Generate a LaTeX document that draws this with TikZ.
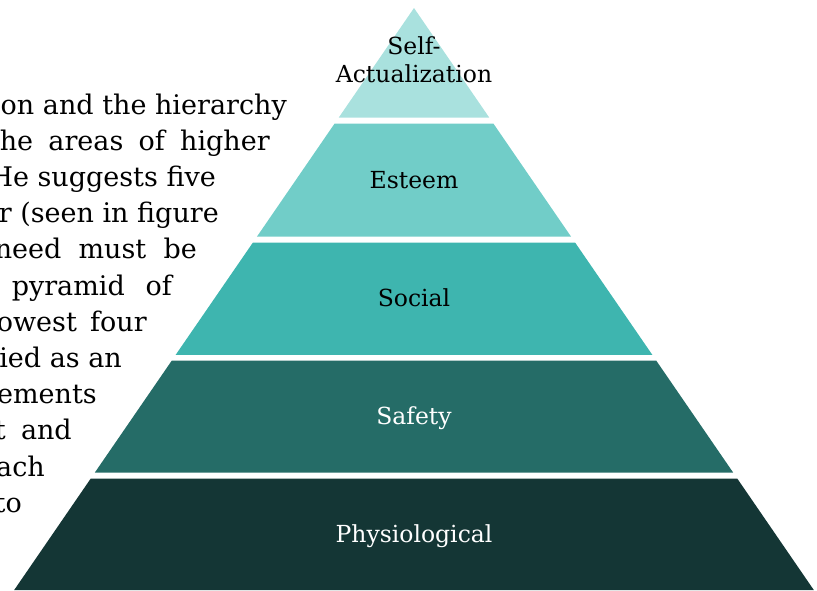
\documentclass[tikz,border=0pt]{standalone}
\usepackage{fontspec}
\setmainfont{DejaVu Serif}
\usepackage{tikz}
\usepackage{xcolor}

\definecolor{selfcol}{HTML}{A9E1DE}
\definecolor{esteemcol}{HTML}{71CDC8}
\definecolor{socialcol}{HTML}{3EB5AF}
\definecolor{safetycol}{HTML}{256C67}
\definecolor{physiocol}{HTML}{143635}

\tikzset{
    txtline/.style={anchor=base east, inner sep=0pt, font=\fontsize{27}{36}\selectfont},
    layer/.style={inner sep=0pt, align=center, font=\fontsize{23.5}{28}\selectfont}
}

\begin{document}
\begin{tikzpicture}[x=1pt, y=-1pt]
            \useasboundingbox (0, 0) rectangle (817, 590);

            \node[txtline] (t1) at (287, 114) {on and the hierarchy};
            \node[txtline] (t2) at (270, 150.2) {\makebox[270pt][s]{he areas of higher}};
            \node[txtline] (t3) at (216, 186.4) {He suggests five};
            \node[txtline] (t4) at (219, 222.6) {r (seen in figure};
            \node[txtline] (t5) at (197, 258.8) {\makebox[202pt][s]{need must be}};
            \node[txtline] (t6) at (172, 295) {\makebox[160pt][s]{pyramid of}};
            \node[txtline] (t7) at (147, 331.2) {\makebox[150pt][s]{owest four}};
            \node[txtline] (t8) at (122, 367.4) {ied as an};
            \node[txtline] (t9) at (97, 403.6) {ements};
            \node[txtline] (t10) at (72, 439.8) {\makebox[77pt][s]{t and}};
            \node[txtline] (t11) at (45, 476) {ach};
            \node[txtline] (t12) at (22, 512.2) {to};

            \fill[selfcol] (414, 8) -- (489.2, 117.5) -- (338.8, 117.5) -- cycle;
            \fill[esteemcol] (334.5, 123.7) -- (493.5, 123.7) -- (571.1, 236.7) -- (256.9, 236.7) -- cycle;
            \fill[socialcol] (252.8, 242.7) -- (575.2, 242.7) -- (652.3, 354.8) -- (175.7, 354.8) -- cycle;
            \fill[safetycol] (171.7, 360.7) -- (656.3, 360.7) -- (733.2, 472.6) -- (94.8, 472.6) -- cycle;
            \fill[physiocol] (90.7, 478.6) -- (737.3, 478.6) -- (813.8, 590) -- (14.2, 590) -- cycle;

            \node[layer] (selfact) at (414, 60) {Self-\\Actualization};
            \node[layer, anchor=base] (esteem) at (414, 188) {Esteem};
            \node[layer, anchor=base] (social) at (414, 306.5) {Social};
            \node[layer, anchor=base, text=white] (safety) at (414, 424.5) {Safety};
            \node[layer, anchor=base, text=white] (physio) at (414, 542.5) {Physiological};
        \end{tikzpicture}
\end{document}
